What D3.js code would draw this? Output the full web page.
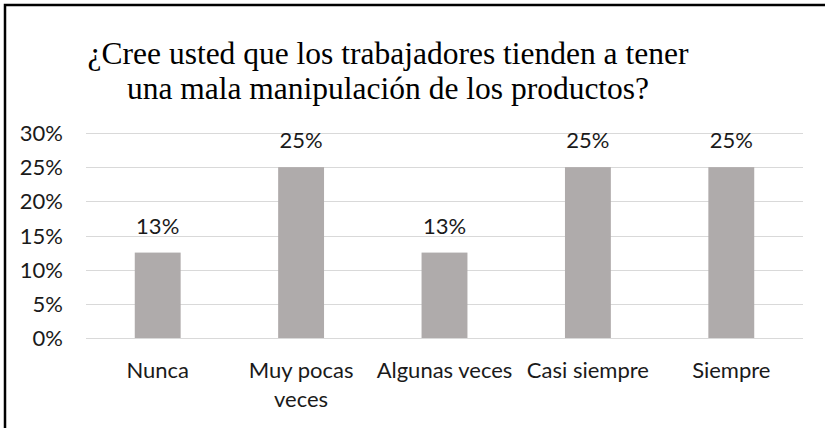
<!DOCTYPE html>
<html>
<head>
<meta charset="utf-8"/>
<script src="https://d3js.org/d3.v7.min.js"></script>
<style type="text/css">
body { margin: 0; background: #fff; }
.grid line { stroke: #d9d9d9; stroke-width: 1px; }
.bar { fill: #afabab; }
.tick-label, .cat-label, .value-label {
  font-family: Lato, "Open Sans", sans-serif;
  font-size: 22px;
  fill: #1a1a1a;
}
.title {
  font-family: "Liberation Serif", "Times New Roman", serif;
  font-size: 31.5px;
  fill: #000;
}
</style>
</head>
<body>
<script>

var width = 825, height = 428;

var categories = ["Nunca", "Muy pocas veces", "Algunas veces", "Casi siempre", "Siempre"];
var values = [0.125, 0.25, 0.125, 0.25, 0.25];
var yTicks = [0, 0.05, 0.10, 0.15, 0.20, 0.25, 0.30];
var titleLines = ["¿Cree usted que los trabajadores tienden a tener",
                  "una mala manipulación de los productos?"];
// how the category labels wrap in the original
var catLines = [["Nunca"], ["Muy pocas", "veces"], ["Algunas veces"], ["Casi siempre"], ["Siempre"]];

var plot = {left: 86, right: 803, top: 133, bottom: 338};

var x = d3.scaleBand()
    .domain(categories)
    .range([plot.left, plot.right])
    .paddingInner(0.68)
    .paddingOuter(0.34);

var y = d3.scaleLinear()
    .domain([0, 0.30])
    .range([plot.bottom, plot.top]);

var pct = d3.format(".0%");

var svg = d3.select("body").append("svg")
    .attr("width", width)
    .attr("height", height);

// frame (only left and top edge show in the picture)
svg.append("rect")
    .attr("x", 5).attr("y", 5)
    .attr("width", 840).attr("height", 440)
    .attr("fill", "none")
    .attr("stroke", "#000")
    .attr("stroke-width", 2.5);

// title
var title = svg.append("text")
    .attr("class", "title")
    .attr("text-anchor", "middle");
title.selectAll("tspan")
    .data(titleLines)
    .enter().append("tspan")
    .attr("x", 388)
    .attr("y", function(d, i) { return 64 + i * 35; })
    .text(function(d) { return d; });

// gridlines
svg.append("g").attr("class", "grid")
    .selectAll("line")
    .data(yTicks)
    .enter().append("line")
    .attr("x1", plot.left).attr("x2", plot.right)
    .attr("y1", function(d) { return Math.round(y(d)) + 0.5; })
    .attr("y2", function(d) { return Math.round(y(d)) + 0.5; });

// y tick labels
svg.append("g")
    .selectAll("text")
    .data(yTicks)
    .enter().append("text")
    .attr("class", "tick-label")
    .attr("text-anchor", "end")
    .attr("x", 63)
    .attr("y", function(d) { return y(d) + 8; })
    .text(function(d) { return pct(d); });

// bars
svg.append("g")
    .selectAll("rect")
    .data(values)
    .enter().append("rect")
    .attr("class", "bar")
    .attr("x", function(d, i) { return x(categories[i]); })
    .attr("width", x.bandwidth())
    .attr("y", function(d) { return y(d); })
    .attr("height", function(d) { return y(0) - y(d); });

// value labels
svg.append("g")
    .selectAll("text")
    .data(values)
    .enter().append("text")
    .attr("class", "value-label")
    .attr("text-anchor", "middle")
    .attr("x", function(d, i) { return x(categories[i]) + x.bandwidth() / 2; })
    .attr("y", function(d) { return y(d) - 19; })
    .text(function(d) { return pct(d); });

// category labels
var cat = svg.append("g")
    .selectAll("text")
    .data(categories)
    .enter().append("text")
    .attr("class", "cat-label")
    .attr("text-anchor", "middle");
cat.selectAll("tspan")
    .data(function(d, i) { return catLines[i].map(function(t) { return {t: t, c: d}; }); })
    .enter().append("tspan")
    .attr("x", function(d) { return x(d.c) + x.bandwidth() / 2; })
    .attr("y", function(d, j) { return 378 + j * 29; })
    .text(function(d) { return d.t; });

</script>
</body>
</html>
